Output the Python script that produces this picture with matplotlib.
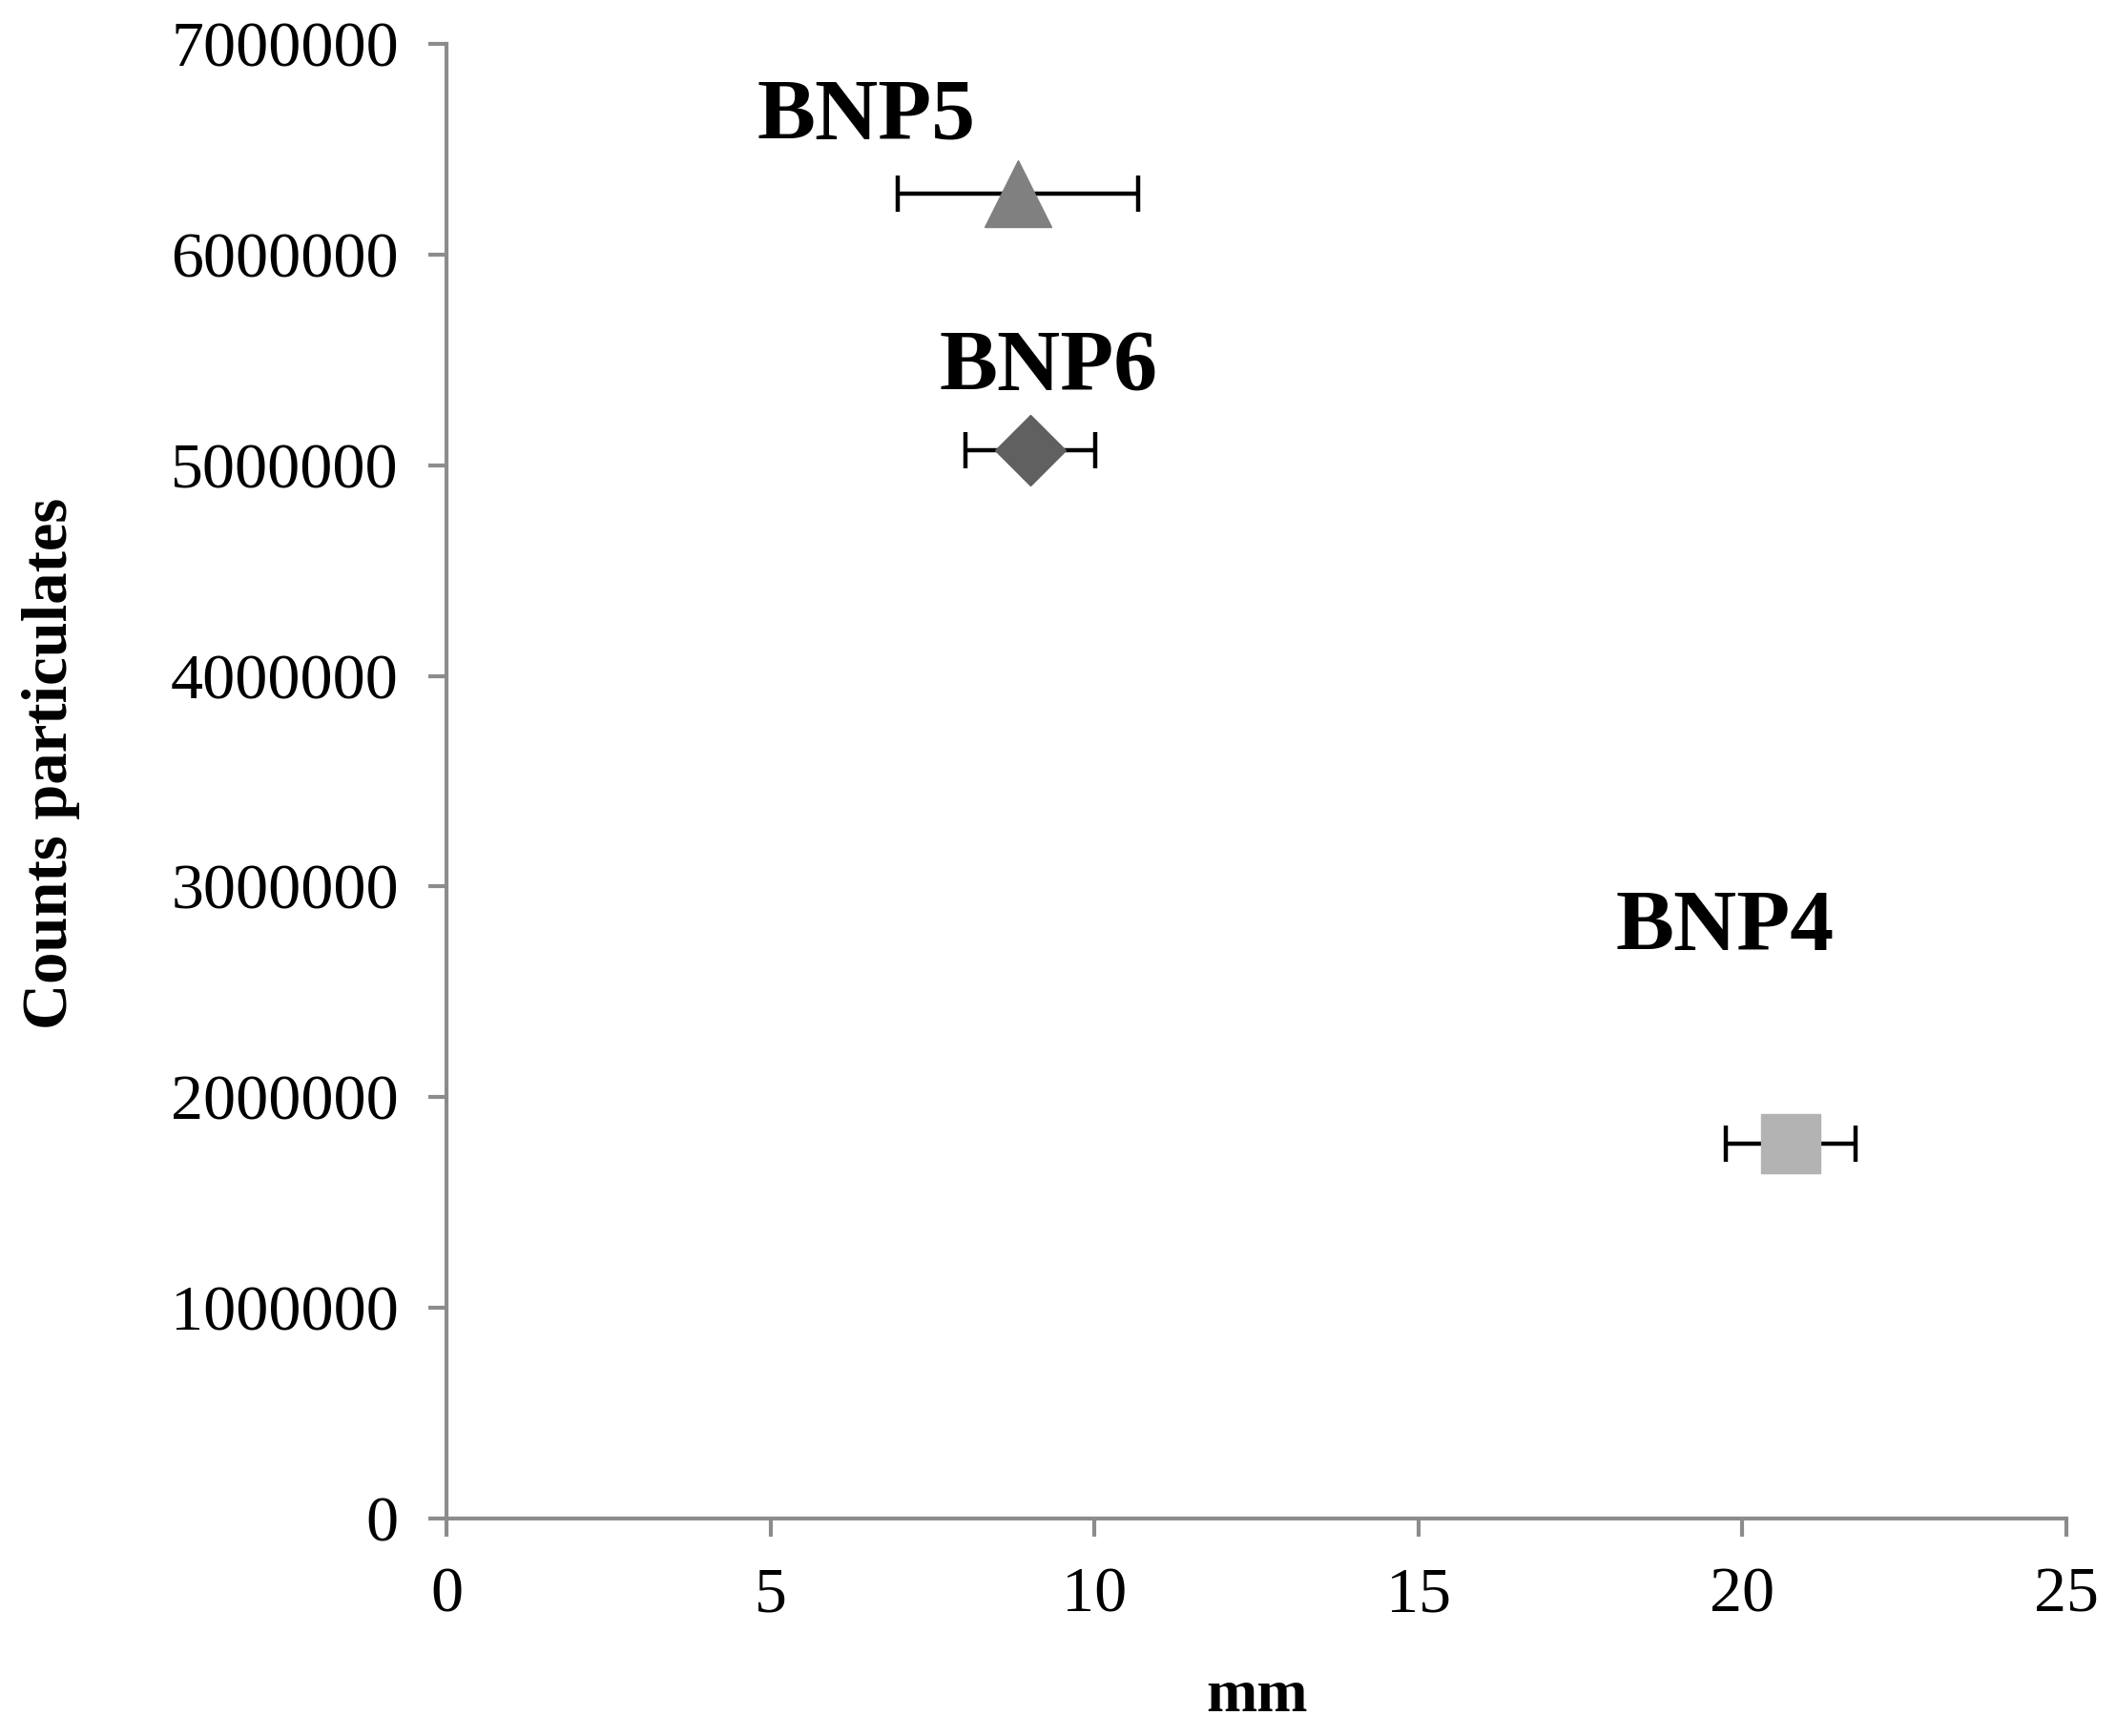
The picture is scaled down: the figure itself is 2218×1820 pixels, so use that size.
import matplotlib
matplotlib.use('Agg')
import matplotlib.pyplot as plt

# valeurs
labels = ['BNP5', 'BNP6', 'BNP4']
mm = [8.82, 9.01, 20.74]
mm_err = [1.86, 1.0, 1.0]
counts = [6290000, 5070000, 1780000]
markers = ['^', 'D', 's']
colors = ['#808080', '#606060', '#b3b3b3']
msizes = [50, 38, 45]
label_pos = [(6.48, 6650000), (9.29, 5460000), (19.73, 2800000)]

plt.rcParams['font.family'] = ['Liberation Serif', 'DejaVu Serif']
axis_col = '#8c8c8c'

fig = plt.figure(figsize=(22.18, 18.20), dpi=100)
ax = fig.add_axes([468 / 2218, 1 - 1592 / 1820, (2166 - 468) / 2218, (1592 - 46) / 1820])

for i in range(len(labels)):
    ax.errorbar(mm[i], counts[i], xerr=mm_err[i], fmt='none', ecolor='black',
                elinewidth=3.2, capsize=14, capthick=3.2, zorder=2)
    ax.plot(mm[i], counts[i], marker=markers[i], color=colors[i], markersize=msizes[i],
            linestyle='none', zorder=3)
    ax.text(label_pos[i][0], label_pos[i][1], labels[i], fontsize=66, fontweight='bold',
            ha='center', va='center')

ax.set_xlim(0, 25)
ax.set_ylim(0, 7000000)
ax.set_xticks([0, 5, 10, 15, 20, 25])
ax.set_yticks(range(0, 7000001, 1000000))
ax.set_yticklabels([str(v) for v in range(0, 7000001, 1000000)])

for s in ['top', 'right']:
    ax.spines[s].set_visible(False)
for s in ['left', 'bottom']:
    ax.spines[s].set_color(axis_col)
    ax.spines[s].set_linewidth(3)
ax.tick_params(axis='both', direction='out', length=14, width=3, color=axis_col,
               labelsize=49)
ax.tick_params(axis='y', pad=22)
ax.tick_params(axis='x', pad=22)

ax.set_xlabel('mm', fontsize=46, fontweight='bold', va='center')
ax.set_ylabel('Counts particulates', fontsize=48, fontweight='bold', va='center')
ax.xaxis.set_label_coords(0.5, -0.121)
ax.yaxis.set_label_coords(-0.244, 0.512)

fig.savefig('out.png', dpi=100)
